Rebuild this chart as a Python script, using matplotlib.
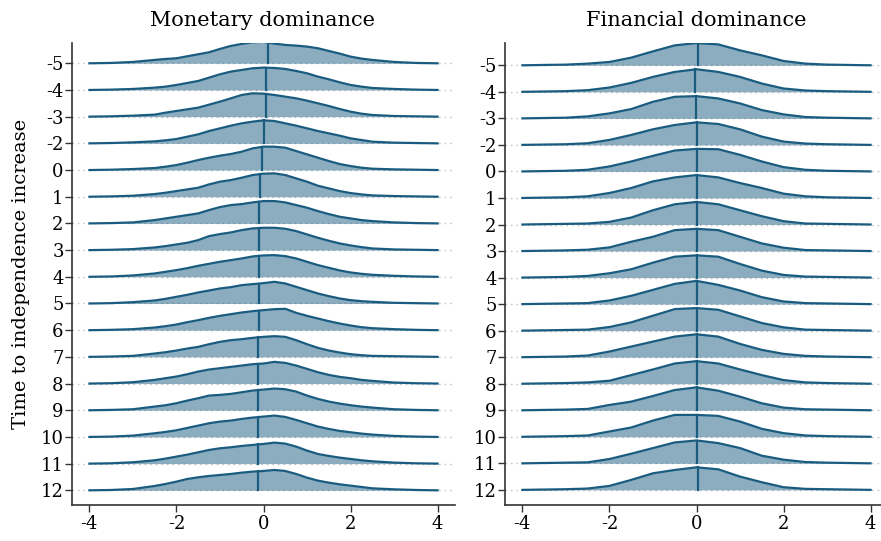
import numpy as np
import matplotlib.pyplot as plt

# periods relative to the independence increase (one ridge per period)
periods = ['-5', '-4', '-3', '-2', '0', '1', '2', '3', '4', '5', '6', '7', '8', '9', '10', '11', '12']

# evaluation points of the densities
mon_x = [-4, -3.5, -3, -2.5, -2.25, -2, -1.75, -1.5, -1.25, -1, -0.75, -0.5, -0.25, 0,
         0.25, 0.5, 0.75, 1, 1.25, 1.5, 1.75, 2, 2.25, 2.5, 3, 3.5, 4]
fin_x = [-4, -3.5, -3, -2.5, -2, -1.5, -1, -0.5, 0, 0.5, 1, 1.5, 2, 2.5, 3, 3.5, 4]

# density heights (density x 150)
mon_dens = [
    [0, 1, 4, 10, 13, 15, 21, 27, 33, 43, 52, 58, 63, 64, 59, 55, 53, 50, 45, 37, 29, 20, 14, 10, 4, 1, 0],
    [0, 1, 3, 7, 10, 15, 21, 27, 37, 47, 55, 60, 65, 67, 66, 63, 57, 50, 40, 32, 23, 15, 10, 6, 3, 1, 0],
    [0, 1, 3, 6, 12, 17, 22, 27, 36, 45, 55, 65, 70, 69, 65, 60, 55, 48, 40, 32, 23, 15, 9, 5, 2, 1, 0],
    [0, 1, 3, 6, 9, 13, 20, 27, 37, 45, 53, 60, 65, 69, 67, 60, 53, 45, 37, 30, 23, 15, 10, 5, 2, 1, 0],
    [0, 1, 3, 6, 10, 15, 22, 30, 37, 43, 48, 55, 65, 70, 70, 67, 57, 47, 37, 27, 18, 12, 7, 4, 2, 1, 0],
    [0, 1, 3, 8, 12, 17, 22, 27, 37, 45, 50, 57, 65, 69, 70, 65, 55, 45, 33, 25, 17, 11, 7, 4, 2, 1, 0],
    [0, 1, 3, 10, 15, 20, 25, 30, 40, 49, 55, 58, 63, 67, 67, 63, 55, 47, 37, 28, 20, 15, 10, 7, 3, 1, 0],
    [0, 1, 3, 8, 12, 17, 22, 30, 42, 48, 53, 60, 65, 67, 67, 64, 57, 47, 37, 28, 20, 14, 9, 5, 2, 1, 0],
    [0, 1, 4, 10, 15, 20, 26, 33, 39, 45, 50, 55, 61, 64, 65, 62, 55, 45, 35, 27, 19, 13, 9, 6, 3, 1, 0],
    [0, 1, 4, 9, 14, 20, 26, 33, 39, 45, 49, 55, 58, 61, 65, 60, 50, 40, 30, 22, 15, 10, 7, 5, 2, 1, 0],
    [0, 1, 3, 8, 12, 17, 24, 30, 37, 43, 48, 53, 57, 60, 63, 64, 52, 43, 35, 27, 20, 14, 9, 6, 3, 1, 0],
    [0, 1, 3, 10, 14, 19, 25, 30, 38, 45, 50, 53, 57, 60, 62, 60, 50, 38, 27, 19, 13, 8, 5, 3, 2, 1, 0],
    [0, 1, 4, 11, 16, 21, 28, 36, 42, 46, 50, 54, 58, 60, 65, 62, 54, 44, 34, 26, 20, 16, 11, 8, 3, 1, 0],
    [0, 1, 3, 11, 15, 21, 29, 36, 44, 46, 49, 54, 59, 62, 65, 63, 56, 44, 34, 26, 20, 15, 11, 8, 3, 1, 0],
    [0, 1, 4, 11, 15, 20, 27, 34, 41, 46, 49, 54, 58, 61, 64, 60, 51, 41, 31, 24, 18, 14, 10, 7, 3, 1, 0],
    [0, 1, 4, 10, 15, 21, 27, 34, 41, 46, 49, 53, 56, 59, 63, 60, 51, 39, 29, 23, 18, 14, 10, 7, 3, 1, 0],
    [0, 1, 4, 13, 19, 26, 34, 39, 43, 46, 49, 53, 56, 58, 61, 58, 49, 38, 29, 23, 18, 14, 10, 6, 3, 1, 0],
]

fin_dens = [
    [0, 1, 2, 5, 10, 23, 42, 60, 67, 63, 45, 30, 13, 5, 2, 1, 0],
    [0, 1, 2, 5, 13, 27, 45, 60, 68, 60, 45, 25, 10, 4, 2, 1, 0],
    [0, 1, 2, 6, 15, 28, 50, 65, 67, 60, 45, 25, 12, 4, 2, 1, 0],
    [0, 1, 2, 5, 15, 30, 47, 60, 68, 63, 47, 25, 10, 4, 2, 1, 0],
    [0, 1, 2, 5, 15, 30, 47, 63, 68, 67, 50, 30, 13, 5, 2, 1, 0],
    [0, 1, 2, 5, 15, 30, 50, 62, 69, 62, 45, 30, 13, 5, 2, 1, 0],
    [0, 1, 2, 3, 8, 21, 43, 61, 68, 61, 43, 25, 10, 3, 2, 1, 0],
    [0, 1, 2, 4, 11, 28, 43, 63, 67, 63, 43, 23, 10, 3, 2, 1, 0],
    [0, 1, 2, 5, 13, 25, 45, 63, 67, 63, 41, 21, 8, 3, 2, 1, 0],
    [0, 1, 2, 3, 11, 25, 43, 61, 70, 58, 41, 21, 8, 3, 2, 1, 0],
    [0, 1, 2, 3, 11, 25, 45, 65, 68, 63, 43, 23, 10, 3, 2, 1, 0],
    [0, 1, 2, 5, 17, 32, 47, 62, 69, 62, 40, 22, 10, 4, 2, 1, 0],
    [0, 1, 2, 4, 9, 26, 43, 61, 68, 61, 43, 26, 11, 4, 2, 1, 0],
    [0, 1, 2, 4, 16, 26, 43, 61, 69, 59, 41, 21, 8, 3, 2, 1, 0],
    [0, 1, 2, 4, 16, 28, 49, 66, 66, 63, 46, 24, 11, 4, 2, 1, 0],
    [0, 1, 2, 3, 13, 29, 46, 63, 69, 61, 46, 23, 11, 4, 2, 1, 0],
    [0, 1, 2, 4, 12, 30, 50, 60, 68, 62, 40, 23, 8, 3, 2, 1, 0],
]

# medians (vertical markers)
mon_median = [0.10, 0.065, 0.065, 0.02, -0.03, -0.08, -0.10, -0.10, -0.11, -0.11,
              -0.11, -0.12, -0.12, -0.12, -0.13, -0.13, -0.12]
fin_median = [0.03, -0.04, -0.02, 0.0, 0.01, 0.02, 0.015, 0.015, 0.02, 0.01,
              0.01, 0.02, 0.015, 0.015, 0.015, 0.015, 0.03]

line_col = '#1a5c80'
spine_col = '#333333'
plt.rcParams['font.family'] = 'DejaVu Serif'
plt.rcParams['axes.unicode_minus'] = False

W, H = 881, 541
fig = plt.figure(figsize=(W / 100, H / 100), dpi=100)


def ridge_panel(rect, xs, dens, medians, ylim, title, tx):
    ax = fig.add_axes(rect)
    scale = 1 / 80.0
    for r, (h, m) in enumerate(zip(dens, medians)):
        h = np.array(h, dtype=float)
        top = r - h * scale
        ax.axhline(r, color='#bdbdbd', ls=(0, (1, 3)), lw=1.0, zorder=0)
        ax.fill_between(xs, r, top, color=line_col, alpha=0.5, lw=0, zorder=2 + r)
        ax.plot(xs, top, color=line_col, lw=1.6, zorder=2 + r, solid_joinstyle='round')
        mh = np.interp(m, xs, h) * scale
        ax.plot([m, m], [r, r - mh], color=line_col, lw=1.6, zorder=2 + r)
    ax.set_xlim(-4.4, 4.4)
    ax.set_ylim(*ylim)
    ax.set_yticks(range(len(periods)))
    ax.set_yticklabels(periods)
    ax.set_xticks([-4, -2, 0, 2, 4])
    for s in ['top', 'right']:
        ax.spines[s].set_visible(False)
    for s in ['left', 'bottom']:
        ax.spines[s].set_color(spine_col)
        ax.spines[s].set_linewidth(1.2)
    ax.tick_params(axis='both', length=5, width=1, color=spine_col, labelsize=13, pad=1)
    ax.tick_params(axis='x', pad=2)
    fig.text(tx / W, 1 - 20 / H, title, ha='center', va='center', fontsize=15)
    return ax


ax1 = ridge_panel([72 / W, 36 / H, 383 / W, 462 / H], mon_x, mon_dens, mon_median,
                  (16.55, -0.76), 'Monetary dominance', 263)
ax1.set_ylabel('Time to independence increase', fontsize=14, labelpad=8)

ax2 = ridge_panel([505 / W, 36 / H, 383 / W, 462 / H], fin_x, fin_dens, fin_median,
                  (16.57, -0.84), 'Financial dominance', 696)

fig.savefig('out.png', dpi=100)
